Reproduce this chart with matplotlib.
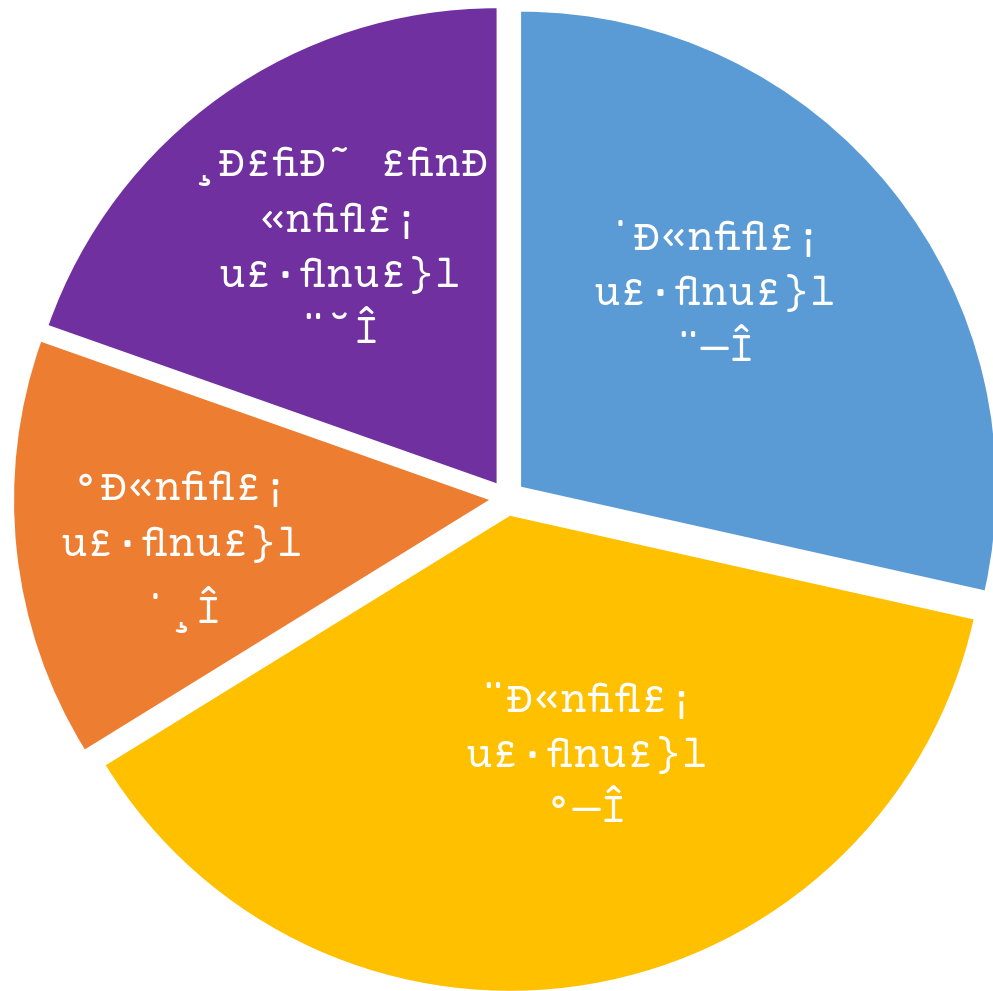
import matplotlib.pyplot as plt

# --- Data (slice shares, labels kept as shown) ---
values = [28.5, 37.7, 14.2, 19.6]
labels = [
    "˙Ð«nﬁﬂ£¡\nu£·ﬂnu£}l\n¨—Î",
    "¨Ð«nﬁﬂ£¡\nu£·ﬂnu£}l\n°—Î",
    "°Ð«nﬁﬂ£¡\nu£·ﬂnu£}l\n˙¸Î",
    "¸Ð£ﬁÐ˜ £ﬁnÐ\n«nﬁﬂ£¡\nu£·ﬂnu£}l\n¨˘Î",
]
colors = ['#5B9BD5', '#FFC000', '#ED7D31', '#7030A0']
explode = [0.038, 0.038, 0.038, 0.038]

# label anchor points in data units (pie radius = 1)
label_pos = [(0.438, 0.427), (0.168, -0.545), (-0.684, -0.114), (-0.352, 0.524)]

# --- Plot ---
fig = plt.figure(figsize=(9.93, 9.91), dpi=100)
ax = fig.add_axes([0, 0, 1, 1])
ax.pie(values, colors=colors, explode=explode, startangle=90,
       counterclock=False, radius=1.0,
       wedgeprops=dict(linewidth=0))

for text, (x, y) in zip(labels, label_pos):
    ax.text(x, y, text, ha='center', va='center', multialignment='center',
            color='white', fontsize=32.5, linespacing=1.58,
            family=['Courier Prime', 'Liberation Mono', 'DejaVu Sans'])

ax.set_aspect('auto')
ax.set_xlim(-1.0674, 1.0232)
ax.set_ylim(-1.0379, 1.0484)
ax.axis('off')

fig.savefig("out.png", dpi=100, facecolor='white')
